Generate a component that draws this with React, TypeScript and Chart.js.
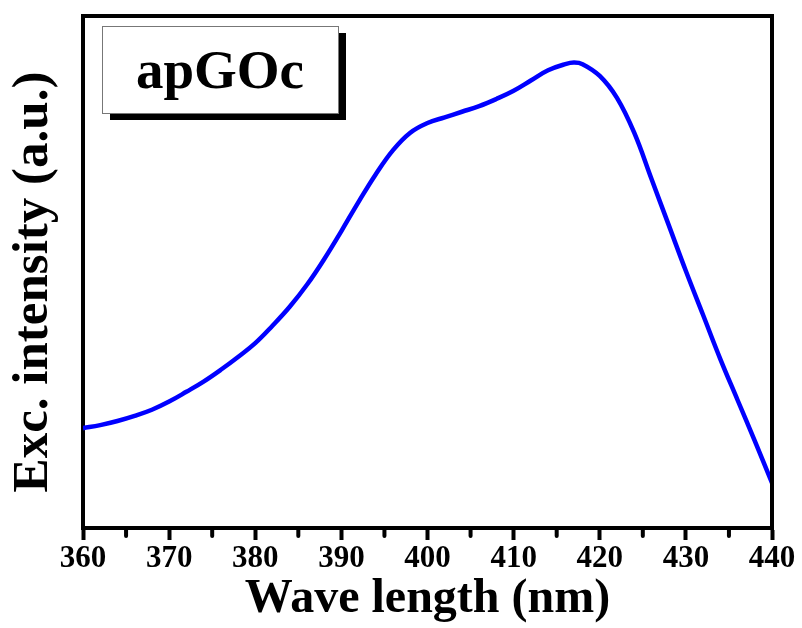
import React, { useEffect, useRef } from "react";
import { Chart, registerables } from "chart.js";

Chart.register(...registerables);

const wavelengths = [360, 362, 364, 366, 368, 370, 372, 374, 376, 378, 380, 382, 384, 386, 388, 390, 392, 394, 396, 398, 400, 402, 404, 406, 408, 410, 412, 414, 416, 417, 418, 420, 422, 424, 426, 428, 430, 432, 434, 436, 438, 440];
const intensity = [19.5, 20.1, 20.9, 21.9, 23.1, 24.7, 26.6, 28.6, 30.9, 33.4, 36.1, 39.5, 43.2, 47.5, 52.5, 58.0, 63.7, 69.1, 73.8, 77.2, 79.1, 80.2, 81.3, 82.4, 83.8, 85.4, 87.4, 89.4, 90.6, 90.9, 90.6, 88.3, 84.0, 77.2, 68.2, 59.2, 50.2, 41.6, 33.0, 25.0, 17.0, 8.8];
const minorTicks = [365, 375, 385, 395, 405, 415, 425, 435];
const legendLabel = "apGOc";
const xTitle = "Wave length (nm)";
const yTitle = "Exc. intensity (a.u.)";

const SERIF = '"Liberation Serif", "Times New Roman", serif';

const framePlugin = {
  id: "frame",
  afterDraw(chart: any) {
    const { ctx, chartArea, scales } = chart;
    const { left, right, top, bottom } = chartArea;
    ctx.save();
    ctx.strokeStyle = "#000";
    ctx.lineWidth = 4;
    ctx.lineCap = "square";
    ctx.beginPath();
    ctx.moveTo(left, top);
    ctx.lineTo(right, top);
    ctx.lineTo(right, bottom);
    ctx.stroke();
    // minor ticks
    ctx.lineCap = "round";
    ctx.beginPath();
    for (const v of minorTicks) {
      const px = scales.x.getPixelForValue(v);
      ctx.moveTo(px, bottom + 2);
      ctx.lineTo(px, bottom + 8);
    }
    ctx.stroke();
    // y axis title
    ctx.save();
    ctx.translate(34, (top + bottom) / 2 + 10);
    ctx.rotate(-Math.PI / 2);
    ctx.fillStyle = "#000";
    ctx.font = `bold 51px ${SERIF}`;
    ctx.textAlign = "center";
    ctx.textBaseline = "middle";
    ctx.fillText(yTitle, 0, 0);
    ctx.restore();
    // legend box with shadow
    const bx = 102, by = 26, bw = 236, bh = 87;
    ctx.fillStyle = "#000";
    ctx.fillRect(bx + 8, by + 7, bw, bh);
    ctx.fillStyle = "#fff";
    ctx.fillRect(bx, by, bw, bh);
    ctx.strokeStyle = "#777";
    ctx.lineWidth = 1;
    ctx.strokeRect(bx + 0.5, by + 0.5, bw, bh);
    ctx.fillStyle = "#000";
    ctx.font = `bold 55px ${SERIF}`;
    ctx.textAlign = "center";
    ctx.textBaseline = "alphabetic";
    ctx.fillText(legendLabel, bx + bw / 2, 88);
    ctx.restore();
  },
};

export default function App() {
  const ref = useRef<HTMLCanvasElement | null>(null);
  useEffect(() => {
    if (!ref.current) return;
    const chart = new Chart(ref.current, {
      type: "line",
      data: {
        datasets: [
          {
            data: wavelengths.map((w, i) => ({ x: w, y: intensity[i] })),
            borderColor: "#0000ff",
            borderWidth: 4.5,
            pointRadius: 0,
            fill: false,
            tension: 0.4,
          },
        ],
      },
      options: {
        animation: false,
        responsive: false,
        events: [],
        layout: { padding: { top: 16, right: 30, left: 0, bottom: 0 } },
        plugins: { legend: { display: false }, tooltip: { enabled: false } },
        scales: {
          x: {
            type: "linear",
            min: 360,
            max: 440,
            afterFit: (s: any) => {
              s.height = 100;
            },
            ticks: {
              stepSize: 10,
              color: "#000",
              padding: 0,
              maxRotation: 0,
              font: { family: SERIF, weight: "bold", size: 31 },
            },
            grid: {
              display: true,
              drawOnChartArea: false,
              drawTicks: true,
              tickLength: 12,
              tickWidth: 4,
              tickColor: "#000",
              color: "#000",
            },
            border: { display: true, color: "#000", width: 4 },
            title: {
              display: true,
              text: xTitle,
              color: "#000",
              padding: { top: 0, bottom: 0 },
              font: { family: SERIF, weight: "bold", size: 48 },
            },
          },
          y: {
            min: 0,
            max: 100,
            afterFit: (s: any) => {
              s.width = 83;
            },
            ticks: { display: false },
            grid: { display: false },
            border: { display: true, color: "#000", width: 4 },
            title: { display: false, text: yTitle },
          },
        },
      },
      plugins: [framePlugin],
    } as any);
    return () => chart.destroy();
  }, []);
  return (
    <div style={{ position: "fixed", left: 0, top: 0, width: 802, height: 628, background: "#fff" }}>
      <canvas ref={ref} width={802} height={628} style={{ width: 802, height: 628, display: "block" }} />
    </div>
  );
}
